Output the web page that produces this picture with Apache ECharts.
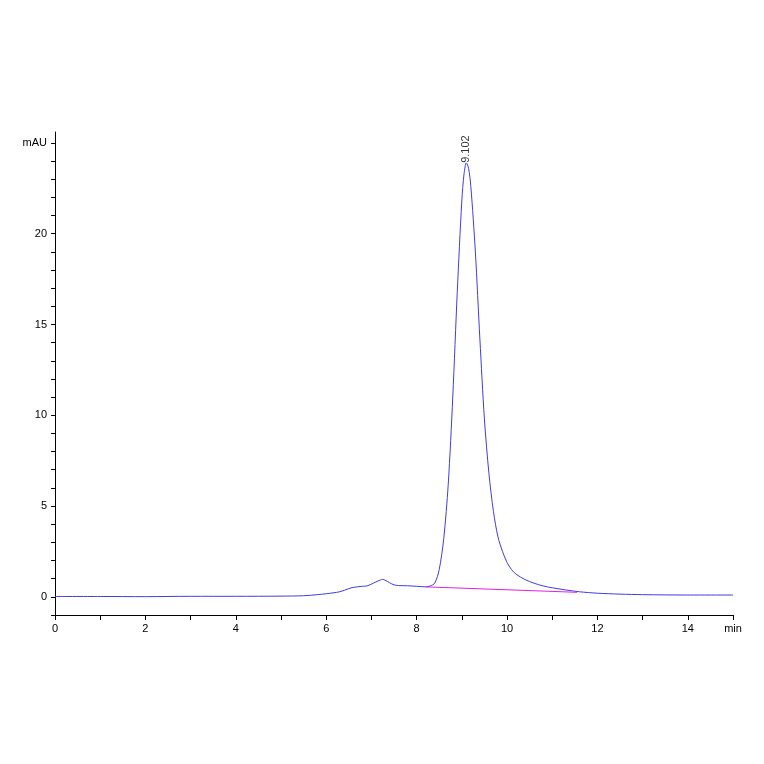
<!DOCTYPE html>
<html><head><meta charset="utf-8">
<script src="https://cdn.jsdelivr.net/npm/echarts@6/dist/echarts.min.js"></script>
<style>html,body{margin:0;background:#fff}#echart{width:764px;height:764px}</style>
</head><body><div id="echart"></div>
<script>
// retention time (min) and signal (mAU)
var times = [0, 1, 2, 3, 4, 5, 5.5, 5.8, 6.0, 6.3, 6.5, 6.6, 6.8, 6.9, 7.0, 7.1, 7.2, 7.25, 7.3, 7.4, 7.5, 7.6, 7.8, 8.0, 8.2, 8.3, 8.4, 8.5, 8.6, 8.7, 8.8, 8.9, 9.0, 9.05, 9.1, 9.15, 9.2, 9.3, 9.4, 9.5, 9.6, 9.7, 9.8, 9.9, 10.0, 10.1, 10.2, 10.4, 10.6, 10.8, 11.0, 11.3, 11.6, 12.0, 12.5, 13.0, 14.0, 15.0];
var signal = [0.02, 0.02, 0.01, 0.03, 0.03, 0.04, 0.06, 0.12, 0.17, 0.28, 0.45, 0.52, 0.58, 0.6, 0.7, 0.82, 0.93, 0.96, 0.92, 0.78, 0.66, 0.62, 0.61, 0.58, 0.55, 0.6, 0.75, 1.5, 3.2, 6.2, 11, 16.8, 21.8, 23.3, 23.9, 23.6, 22.6, 19, 14.2, 9.8, 6.8, 4.7, 3.3, 2.5, 1.9, 1.5, 1.25, 0.95, 0.75, 0.6, 0.5, 0.38, 0.28, 0.2, 0.15, 0.12, 0.1, 0.1];
var baseTimes = [8.2, 11.55];
var baseValues = [0.55, 0.25];
var peakTime = 9.102, peakValue = 23.9;

var myChart = echarts.init(document.getElementById('echart'));
var font = {fontFamily: 'Liberation Sans', fontSize: 11, color: '#000'};
var option = {
    animation: false,
    grid: {left: 55, right: 31, top: 132, bottom: 149},
    xAxis: {
        type: 'value', min: 0, max: 15, interval: 1,
        axisLine: {onZero: false, lineStyle: {color: '#000'}},
        axisTick: {length: 5, lineStyle: {color: '#000'}},
        axisLabel: Object.assign({
            showMaxLabel: true,
            formatter: function (v) { return v === 15 ? 'min' : (v % 2 === 0 ? v : ''); }
        }, font),
        splitLine: {show: false}
    },
    yAxis: {
        type: 'value', min: -1, max: 25.6, interval: 1,
        axisLine: {show: true, lineStyle: {color: '#000'}},
        axisTick: {show: true, length: 4, lineStyle: {color: '#000'}},
        axisLabel: Object.assign({
            showMaxLabel: false,
            formatter: function (v) { return v === 25 ? 'mAU' : (v % 5 === 0 && v >= 0 ? v : ''); }
        }, font),
        splitLine: {show: false}
    },
    series: [
        {
            type: 'line', showSymbol: false, smooth: 0.3,
            data: times.map(function (t, i) { return [t, signal[i]]; }),
            lineStyle: {color: '#3c3ce6', width: 1}
        },
        {
            type: 'line', showSymbol: false,
            data: baseTimes.map(function (t, i) { return [t, baseValues[i]]; }),
            lineStyle: {color: '#e020e0', width: 1}
        },
        {
            type: 'scatter', symbolSize: 0,
            data: [[peakTime, peakValue]],
            label: {
                show: true, position: 'top', rotate: 90, align: 'left', verticalAlign: 'middle',
                distance: 0, fontFamily: 'Liberation Sans', fontSize: 11, color: '#000',
                formatter: function () { return peakTime.toFixed(3); }
            }
        }
    ]
};
myChart.setOption(option);
window.onresize = myChart.resize;
</script>
</body></html>
